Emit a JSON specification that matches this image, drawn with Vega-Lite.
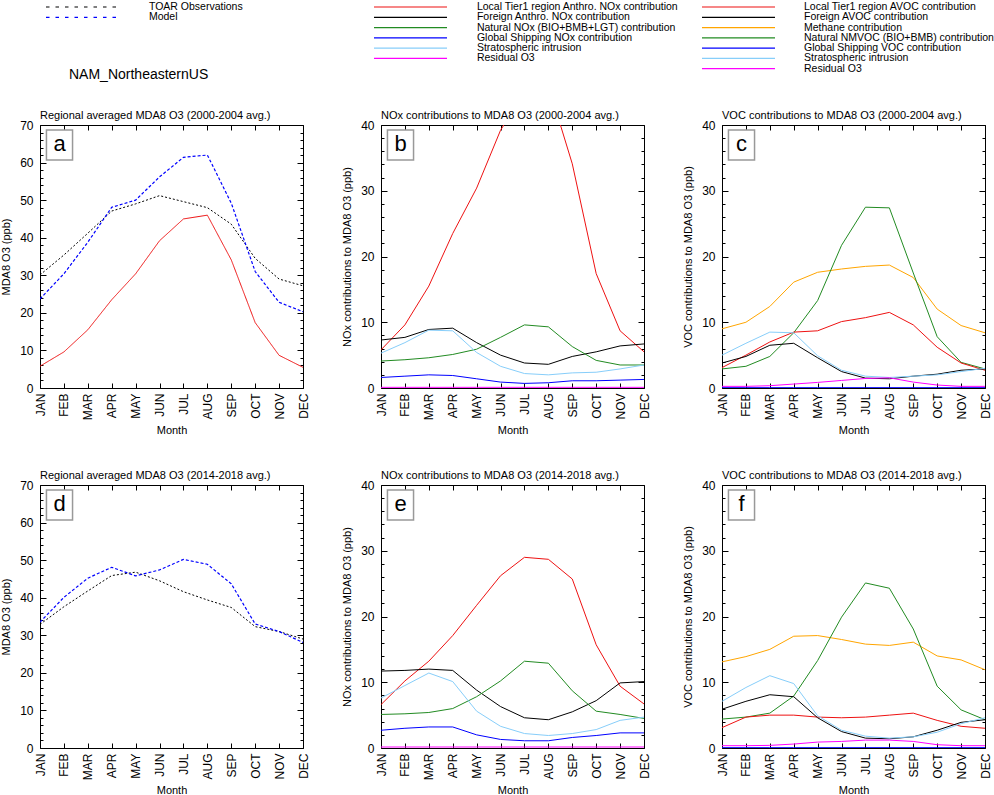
{
"$schema":"https://vega.github.io/schema/vega-lite/v6.json",
"background":"white",
"padding":{"top":2,"left":0,"right":0,"bottom":0},
"config":{
 "font":"Liberation Sans",
 "view":{"stroke":"#000","strokeWidth":1},
 "axis":{"domain":false,"grid":false,"tickColor":"#000","tickWidth":1,"labelColor":"#000","titleColor":"#000","labelFont":"Liberation Sans","titleFont":"Liberation Sans","labelFontSize":12,"titleFontSize":11,"titleFontWeight":"normal"},
 "title":{"anchor":"start","frame":"group","fontSize":11,"fontWeight":"normal","font":"Liberation Sans","color":"#000","offset":-2},
 "text":{"font":"Liberation Sans","color":"#000"}
},
"datasets":{
 "leg":[
  {"block":"obs","series":"TOAR Observations","order":0},
  {"block":"obs","series":"Model","order":1},
  {"block":"nox","series":"Local Tier1 region Anthro. NOx contribution","order":0},
  {"block":"nox","series":"Foreign Anthro. NOx contribution","order":1},
  {"block":"nox","series":"Natural NOx (BIO+BMB+LGT) contribution","order":2},
  {"block":"nox","series":"Global Shipping NOx contribution","order":3},
  {"block":"nox","series":"Stratospheric intrusion","order":4},
  {"block":"nox","series":"Residual O3","order":5},
  {"block":"voc","series":"Local Tier1 region AVOC contribution","order":0},
  {"block":"voc","series":"Foreign AVOC contribution","order":1},
  {"block":"voc","series":"Methane contribution","order":2},
  {"block":"voc","series":"Natural NMVOC (BIO+BMB) contribution","order":3},
  {"block":"voc","series":"Global Shipping VOC contribution","order":4},
  {"block":"voc","series":"Stratospheric intrusion","order":5},
  {"block":"voc","series":"Residual O3","order":6}
 ],
 "d":[
  {"panel":"a","series":"TOAR Observations","JAN":30.1,"FEB":35.4,"MAR":41.2,"APR":47.1,"MAY":49,"JUN":51.2,"JUL":49.6,"AUG":48,"SEP":43.6,"OCT":34.5,"NOV":29,"DEC":27.2},
  {"panel":"a","series":"Model","JAN":23.7,"FEB":30.4,"MAR":38.8,"APR":48.1,"MAY":50,"JUN":56.2,"JUL":61.4,"AUG":62,"SEP":49.2,"OCT":31,"NOV":22.8,"DEC":20.3},
  {"panel":"a","series":"Local Tier1 region Anthro. NOx contribution","JAN":5.8,"FEB":9.6,"MAR":15.5,"APR":23.5,"MAY":30.4,"JUN":39.2,"JUL":45,"AUG":46,"SEP":34.1,"OCT":17.4,"NOV":8.7,"DEC":5.5},

  {"panel":"b","series":"Local Tier1 region Anthro. NOx contribution","JAN":5.8,"FEB":9.6,"MAR":15.5,"APR":23.5,"MAY":30.4,"JUN":39.2,"JUL":45,"AUG":46,"SEP":34.1,"OCT":17.4,"NOV":8.7,"DEC":5.5},
  {"panel":"b","series":"Foreign Anthro. NOx contribution","JAN":7.3,"FEB":7.7,"MAR":8.9,"APR":9.1,"MAY":6.9,"JUN":5.0,"JUL":3.8,"AUG":3.6,"SEP":4.8,"OCT":5.5,"NOV":6.4,"DEC":6.7},
  {"panel":"b","series":"Natural NOx (BIO+BMB+LGT) contribution","JAN":4.1,"FEB":4.3,"MAR":4.6,"APR":5.1,"MAY":5.9,"JUN":7.7,"JUL":9.6,"AUG":9.3,"SEP":6.3,"OCT":4.2,"NOV":3.5,"DEC":3.5},
  {"panel":"b","series":"Global Shipping NOx contribution","JAN":1.6,"FEB":1.8,"MAR":2.0,"APR":1.9,"MAY":1.4,"JUN":0.9,"JUL":0.7,"AUG":0.8,"SEP":1.1,"OCT":1.1,"NOV":1.2,"DEC":1.3},
  {"panel":"b","series":"Stratospheric intrusion","JAN":5.3,"FEB":6.9,"MAR":8.8,"APR":8.7,"MAY":5.4,"JUN":3.3,"JUL":2.2,"AUG":2.0,"SEP":2.3,"OCT":2.4,"NOV":2.9,"DEC":3.5},
  {"panel":"b","series":"Residual O3","JAN":0.1,"FEB":0.1,"MAR":0.1,"APR":0.1,"MAY":0.1,"JUN":0.1,"JUL":0.1,"AUG":0.1,"SEP":0.1,"OCT":0.1,"NOV":0.1,"DEC":0.1},

  {"panel":"c","series":"Methane contribution","JAN":9.0,"FEB":10.0,"MAR":12.4,"APR":16.1,"MAY":17.6,"JUN":18.1,"JUL":18.5,"AUG":18.7,"SEP":16.8,"OCT":12.0,"NOV":9.5,"DEC":8.4},
  {"panel":"c","series":"Natural NMVOC (BIO+BMB) contribution","JAN":2.9,"FEB":3.3,"MAR":4.8,"APR":8.4,"MAY":13.3,"JUN":21.7,"JUL":27.5,"AUG":27.4,"SEP":17.5,"OCT":7.8,"NOV":3.9,"DEC":2.9},
  {"panel":"c","series":"Local Tier1 region AVOC contribution","JAN":3.1,"FEB":5.0,"MAR":7.0,"APR":8.5,"MAY":8.7,"JUN":10.1,"JUL":10.7,"AUG":11.5,"SEP":9.6,"OCT":6.2,"NOV":3.8,"DEC":2.7},
  {"panel":"c","series":"Foreign AVOC contribution","JAN":3.8,"FEB":4.8,"MAR":6.5,"APR":6.8,"MAY":4.6,"JUN":2.5,"JUL":1.5,"AUG":1.4,"SEP":1.8,"OCT":2.1,"NOV":2.7,"DEC":2.9},
  {"panel":"c","series":"Stratospheric intrusion","JAN":5.0,"FEB":6.8,"MAR":8.5,"APR":8.4,"MAY":4.9,"JUN":2.7,"JUL":1.8,"AUG":1.6,"SEP":1.8,"OCT":2.0,"NOV":2.5,"DEC":3.0},
  {"panel":"c","series":"Residual O3","JAN":0.25,"FEB":0.25,"MAR":0.35,"APR":0.6,"MAY":0.85,"JUN":1.15,"JUL":1.45,"AUG":1.55,"SEP":0.9,"OCT":0.45,"NOV":0.25,"DEC":0.25},
  {"panel":"c","series":"Global Shipping VOC contribution","JAN":0.05,"FEB":0.05,"MAR":0.05,"APR":0.05,"MAY":0.05,"JUN":0.05,"JUL":0.05,"AUG":0.05,"SEP":0.05,"OCT":0.05,"NOV":0.05,"DEC":0.05},

  {"panel":"d","series":"TOAR Observations","JAN":32.9,"FEB":37.6,"MAR":41.8,"APR":45.9,"MAY":46.8,"JUN":44.5,"JUL":41.6,"AUG":39.4,"SEP":37.4,"OCT":32.3,"NOV":31,"DEC":29},
  {"panel":"d","series":"Model","JAN":33.5,"FEB":40.1,"MAR":45.2,"APR":48.1,"MAY":45.8,"JUN":47.4,"JUL":50.2,"AUG":48.9,"SEP":43.7,"OCT":33,"NOV":31,"DEC":28.1},

  {"panel":"e","series":"Local Tier1 region Anthro. NOx contribution","JAN":6.6,"FEB":10.2,"MAR":13.2,"APR":17.1,"MAY":21.7,"JUN":26.2,"JUL":29.0,"AUG":28.7,"SEP":25.7,"OCT":15.7,"NOV":9.4,"DEC":6.7},
  {"panel":"e","series":"Foreign Anthro. NOx contribution","JAN":11.7,"FEB":11.8,"MAR":12.0,"APR":11.8,"MAY":8.8,"JUN":6.3,"JUL":4.6,"AUG":4.3,"SEP":5.5,"OCT":7.2,"NOV":9.9,"DEC":10.1},
  {"panel":"e","series":"Natural NOx (BIO+BMB+LGT) contribution","JAN":5.1,"FEB":5.2,"MAR":5.4,"APR":6.0,"MAY":7.8,"JUN":10.2,"JUL":13.2,"AUG":12.9,"SEP":8.7,"OCT":5.6,"NOV":5.1,"DEC":4.5},
  {"panel":"e","series":"Global Shipping NOx contribution","JAN":2.7,"FEB":3.0,"MAR":3.2,"APR":3.2,"MAY":2.0,"JUN":1.3,"JUL":1.1,"AUG":1.1,"SEP":1.6,"OCT":1.9,"NOV":2.3,"DEC":2.3},
  {"panel":"e","series":"Stratospheric intrusion","JAN":7.6,"FEB":9.5,"MAR":11.4,"APR":10.1,"MAY":5.6,"JUN":3.3,"JUL":2.2,"AUG":1.9,"SEP":2.2,"OCT":2.8,"NOV":4.2,"DEC":4.7},
  {"panel":"e","series":"Residual O3","JAN":0.15,"FEB":0.15,"MAR":0.15,"APR":0.15,"MAY":0.15,"JUN":0.15,"JUL":0.15,"AUG":0.15,"SEP":0.15,"OCT":0.15,"NOV":0.15,"DEC":0.15},

  {"panel":"f","series":"Methane contribution","JAN":13.1,"FEB":13.9,"MAR":15.0,"APR":17.0,"MAY":17.1,"JUN":16.5,"JUL":15.8,"AUG":15.6,"SEP":16.1,"OCT":14.0,"NOV":13.4,"DEC":11.9},
  {"panel":"f","series":"Natural NMVOC (BIO+BMB) contribution","JAN":4.4,"FEB":4.7,"MAR":5.3,"APR":7.9,"MAY":13.3,"JUN":19.9,"JUL":25.1,"AUG":24.3,"SEP":18.1,"OCT":9.4,"NOV":5.8,"DEC":4.3},
  {"panel":"f","series":"Local Tier1 region AVOC contribution","JAN":3.1,"FEB":4.7,"MAR":5.0,"APR":5.0,"MAY":4.7,"JUN":4.6,"JUL":4.7,"AUG":5.0,"SEP":5.3,"OCT":4.2,"NOV":3.3,"DEC":3.0},
  {"panel":"f","series":"Foreign AVOC contribution","JAN":5.9,"FEB":7.1,"MAR":8.1,"APR":7.8,"MAY":4.6,"JUN":2.5,"JUL":1.5,"AUG":1.4,"SEP":1.7,"OCT":2.7,"NOV":3.9,"DEC":4.3},
  {"panel":"f","series":"Stratospheric intrusion","JAN":7.1,"FEB":9.2,"MAR":11.0,"APR":9.8,"MAY":4.9,"JUN":2.7,"JUL":1.8,"AUG":1.5,"SEP":1.7,"OCT":2.4,"NOV":3.7,"DEC":4.6},
  {"panel":"f","series":"Residual O3","JAN":0.35,"FEB":0.35,"MAR":0.4,"APR":0.6,"MAY":0.9,"JUN":1.0,"JUL":1.2,"AUG":1.2,"SEP":1.0,"OCT":0.5,"NOV":0.35,"DEC":0.35},
  {"panel":"f","series":"Global Shipping VOC contribution","JAN":0.05,"FEB":0.05,"MAR":0.05,"APR":0.05,"MAY":0.05,"JUN":0.05,"JUL":0.05,"AUG":0.05,"SEP":0.05,"OCT":0.05,"NOV":0.05,"DEC":0.05}
 ]
},
"columns":3,
"spacing":{"row":97,"column":78},
"bounds":"flush",
"concat":[
 {"width":263,"height":21,"view":{"stroke":null},
  "layer":[
   {"data":{"name":"leg"},"transform":[{"filter":"datum.block === 'obs'"}],
    "mark":{"type":"rule","strokeWidth":1.2,"strokeDash":[3.5,6]},
    "encoding":{
     "x":{"datum":0,"type":"quantitative","scale":{"domain":[-0.0822,3.5205],"nice":false,"zero":false},"axis":null},
     "x2":{"datum":1},
     "y":{"field":"order","type":"quantitative","scale":{"domain":[0,2.043],"reverse":true,"nice":false,"zero":false},"axis":null},
     "color":{"field":"series","type":"nominal","legend":null,"scale":{"domain":["TOAR Observations","Model","Local Tier1 region Anthro. NOx contribution","Foreign Anthro. NOx contribution","Natural NOx (BIO+BMB+LGT) contribution","Global Shipping NOx contribution","Stratospheric intrusion","Residual O3","Local Tier1 region AVOC contribution","Foreign AVOC contribution","Methane contribution","Natural NMVOC (BIO+BMB) contribution","Global Shipping VOC contribution"],"range":["#000000","#0000ff","#ee1111","#000000","#228b22","#0000ff","#87cefa","#ff00ff","#ee1111","#000000","#ffa500","#228b22","#0000ff"]}}
    }},
   {"data":{"name":"leg"},"transform":[{"filter":"datum.block === 'obs'"}],
    "mark":{"type":"text","align":"left","baseline":"middle","fontSize":10.5},
    "encoding":{
     "x":{"datum":1.41,"type":"quantitative","scale":{"domain":[-0.0822,3.5205],"nice":false,"zero":false},"axis":null},
     "y":{"field":"order","type":"quantitative","scale":{"domain":[0,2.043],"reverse":true,"nice":false,"zero":false},"axis":null},
     "text":{"field":"series"}
    }},
   {"data":{"values":[{"label":"NAM_NortheasternUS"}]},
    "mark":{"type":"text","align":"left","baseline":"middle","fontSize":14},
    "encoding":{
     "x":{"datum":0.315,"type":"quantitative","scale":{"domain":[-0.0822,3.5205],"nice":false,"zero":false},"axis":null},
     "y":{"datum":6.6,"type":"quantitative","scale":{"domain":[0,2.043],"reverse":true,"nice":false,"zero":false},"axis":null},
     "text":{"field":"label"}
    }}
  ]},
 {"width":263,"height":21,"view":{"stroke":null},
  "data":{"name":"leg"},"transform":[{"filter":"datum.block === 'nox'"}],
  "layer":[
   {"mark":{"type":"rule","strokeWidth":1.2},
    "encoding":{
     "x":{"datum":0,"type":"quantitative","scale":{"domain":[0.0959,3.6986],"nice":false,"zero":false},"axis":null},
     "x2":{"datum":1},
     "y":{"field":"order","type":"quantitative","scale":{"domain":[0,2.043],"reverse":true,"nice":false,"zero":false},"axis":null},
     "color":{"field":"series","type":"nominal","legend":null,"scale":{"domain":["TOAR Observations","Model","Local Tier1 region Anthro. NOx contribution","Foreign Anthro. NOx contribution","Natural NOx (BIO+BMB+LGT) contribution","Global Shipping NOx contribution","Stratospheric intrusion","Residual O3","Local Tier1 region AVOC contribution","Foreign AVOC contribution","Methane contribution","Natural NMVOC (BIO+BMB) contribution","Global Shipping VOC contribution"],"range":["#000000","#0000ff","#ee1111","#000000","#228b22","#0000ff","#87cefa","#ff00ff","#ee1111","#000000","#ffa500","#228b22","#0000ff"]}}
    }},
   {"mark":{"type":"text","align":"left","baseline":"middle","fontSize":10.5},
    "encoding":{
     "x":{"datum":1.41,"type":"quantitative","scale":{"domain":[0.0959,3.6986],"nice":false,"zero":false},"axis":null},
     "y":{"field":"order","type":"quantitative","scale":{"domain":[0,2.043],"reverse":true,"nice":false,"zero":false},"axis":null},
     "text":{"field":"series"}
    }}
  ]},
 {"width":263,"height":21,"view":{"stroke":null},
  "data":{"name":"leg"},"transform":[{"filter":"datum.block === 'voc'"}],
  "layer":[
   {"mark":{"type":"rule","strokeWidth":1.2},
    "encoding":{
     "x":{"datum":0,"type":"quantitative","scale":{"domain":[0.274,3.877],"nice":false,"zero":false},"axis":null},
     "x2":{"datum":1},
     "y":{"field":"order","type":"quantitative","scale":{"domain":[0,2.043],"reverse":true,"nice":false,"zero":false},"axis":null},
     "color":{"field":"series","type":"nominal","legend":null,"scale":{"domain":["TOAR Observations","Model","Local Tier1 region Anthro. NOx contribution","Foreign Anthro. NOx contribution","Natural NOx (BIO+BMB+LGT) contribution","Global Shipping NOx contribution","Stratospheric intrusion","Residual O3","Local Tier1 region AVOC contribution","Foreign AVOC contribution","Methane contribution","Natural NMVOC (BIO+BMB) contribution","Global Shipping VOC contribution"],"range":["#000000","#0000ff","#ee1111","#000000","#228b22","#0000ff","#87cefa","#ff00ff","#ee1111","#000000","#ffa500","#228b22","#0000ff"]}}
    }},
   {"mark":{"type":"text","align":"left","baseline":"middle","fontSize":10.5},
    "encoding":{
     "x":{"datum":1.397,"type":"quantitative","scale":{"domain":[0.274,3.877],"nice":false,"zero":false},"axis":null},
     "y":{"field":"order","type":"quantitative","scale":{"domain":[0,2.043],"reverse":true,"nice":false,"zero":false},"axis":null},
     "text":{"field":"series"}
    }}
  ]},

 {"width":263,"height":263,"title":"Regional averaged MDA8 O3 (2000-2004 avg.)",
  "layer":[
   {"data":{"name":"d"},"transform":[{"filter":"datum.panel === 'a'"},{"fold":["JAN","FEB","MAR","APR","MAY","JUN","JUL","AUG","SEP","OCT","NOV","DEC"],"as":["month","value"]}],
    "mark":{"type":"line","clip":true},
    "encoding":{
     "x":{"field":"month","type":"ordinal","scale":{"type":"point","padding":0,"domain":["JAN","FEB","MAR","APR","MAY","JUN","JUL","AUG","SEP","OCT","NOV","DEC"]},"axis":{"orient":"bottom","title":"Month","labelAngle":-90,"tickSize":-5,"labelPadding":10,"titlePadding":5}},
     "y":{"field":"value","type":"quantitative","scale":{"domain":[0,70],"nice":false},"axis":{"orient":"left","title":"MDA8 O3 (ppb)","values":[0,2,4,6,8,10,12,14,16,18,20,22,24,26,28,30,32,34,36,38,40,42,44,46,48,50,52,54,56,58,60,62,64,66,68,70],"tickSize":{"condition":{"test":"datum.value % 10 === 0","value":-6},"value":-3},"labelExpr":"datum.value % 10 === 0 ? datum.label : ''","labelOverlap":false,"labelPadding":13,"titlePadding":8}},
     "color":{"field":"series","type":"nominal","legend":null,"scale":{"domain":["TOAR Observations","Model","Local Tier1 region Anthro. NOx contribution","Foreign Anthro. NOx contribution","Natural NOx (BIO+BMB+LGT) contribution","Global Shipping NOx contribution","Stratospheric intrusion","Residual O3","Local Tier1 region AVOC contribution","Foreign AVOC contribution","Methane contribution","Natural NMVOC (BIO+BMB) contribution","Global Shipping VOC contribution"],"range":["#555555","#0000ff","#ee1111","#000000","#228b22","#0000ff","#87cefa","#ff00ff","#ee1111","#000000","#ffa500","#228b22","#0000ff"]}},
     "strokeDash":{"condition":[{"test":"datum.series === 'TOAR Observations'","value":[2,2]},{"test":"datum.series === 'Model'","value":[3,2]}],"value":[1,0]},
     "strokeWidth":{"condition":{"test":"datum.series === 'Model'","value":1.2},"value":1}
    }},
   {"data":{"name":"d"},"transform":[{"filter":"datum.panel === 'a'"},{"fold":["JAN","FEB","MAR","APR","MAY","JUN","JUL","AUG","SEP","OCT","NOV","DEC"],"as":["month","value"]}],
    "mark":{"type":"line","opacity":0,"clip":true},
    "encoding":{
     "x":{"field":"month","type":"ordinal","scale":{"type":"point","padding":0,"domain":["JAN","FEB","MAR","APR","MAY","JUN","JUL","AUG","SEP","OCT","NOV","DEC"]},"axis":{"orient":"top","title":null,"labels":false,"tickSize":-5}},
     "y":{"field":"value","type":"quantitative","scale":{"domain":[0,70],"nice":false},"axis":{"orient":"right","title":null,"labels":false,"values":[0,2,4,6,8,10,12,14,16,18,20,22,24,26,28,30,32,34,36,38,40,42,44,46,48,50,52,54,56,58,60,62,64,66,68,70],"tickSize":{"condition":{"test":"datum.value % 10 === 0","value":-6},"value":-3}}},
     "detail":{"field":"series"}
    }},
   {"data":{"values":[{"label":"a"}]},
    "mark":{"type":"point","shape":"M-0.87,-1H0.87V1H-0.87Z","size":900,"filled":true,"fill":"#ffffff","stroke":"#999999","strokeWidth":1.5,"opacity":1,"xOffset":19.5,"yOffset":20},
    "encoding":{"x":{"datum":"JAN","type":"ordinal","axis":null},"y":{"datum":70,"type":"quantitative","axis":null}}},
   {"data":{"values":[{"label":"a"}]},
    "mark":{"type":"text","fontSize":22,"align":"center","baseline":"middle","dx":19.5,"dy":19},
    "encoding":{"x":{"datum":"JAN","type":"ordinal","axis":null},"y":{"datum":70,"type":"quantitative","axis":null},"text":{"field":"label"}}}
  ],
  "resolve":{"axis":{"x":"independent","y":"independent"}}},

 {"width":263,"height":263,"title":"NOx contributions to MDA8 O3 (2000-2004 avg.)",
  "layer":[
   {"data":{"name":"d"},"transform":[{"filter":"datum.panel === 'b'"},{"fold":["JAN","FEB","MAR","APR","MAY","JUN","JUL","AUG","SEP","OCT","NOV","DEC"],"as":["month","value"]}],
    "mark":{"type":"line","clip":true,"strokeWidth":1},
    "encoding":{
     "x":{"field":"month","type":"ordinal","scale":{"type":"point","padding":0,"domain":["JAN","FEB","MAR","APR","MAY","JUN","JUL","AUG","SEP","OCT","NOV","DEC"]},"axis":{"orient":"bottom","title":"Month","labelAngle":-90,"tickSize":-5,"labelPadding":10,"titlePadding":5}},
     "y":{"field":"value","type":"quantitative","scale":{"domain":[0,40],"nice":false},"axis":{"orient":"left","title":"NOx contributions to MDA8 O3 (ppb)","values":[0,2,4,6,8,10,12,14,16,18,20,22,24,26,28,30,32,34,36,38,40],"tickSize":{"condition":{"test":"datum.value % 10 === 0","value":-6},"value":-3},"labelExpr":"datum.value % 10 === 0 ? datum.label : ''","labelOverlap":false,"labelPadding":13,"titlePadding":8}},
     "color":{"field":"series","type":"nominal","legend":null,"scale":{"domain":["TOAR Observations","Model","Local Tier1 region Anthro. NOx contribution","Foreign Anthro. NOx contribution","Natural NOx (BIO+BMB+LGT) contribution","Global Shipping NOx contribution","Stratospheric intrusion","Residual O3","Local Tier1 region AVOC contribution","Foreign AVOC contribution","Methane contribution","Natural NMVOC (BIO+BMB) contribution","Global Shipping VOC contribution"],"range":["#555555","#0000ff","#ee1111","#000000","#228b22","#0000ff","#87cefa","#ff00ff","#ee1111","#000000","#ffa500","#228b22","#0000ff"]}}
    }},
   {"data":{"name":"d"},"transform":[{"filter":"datum.panel === 'b'"},{"fold":["JAN","FEB","MAR","APR","MAY","JUN","JUL","AUG","SEP","OCT","NOV","DEC"],"as":["month","value"]}],
    "mark":{"type":"line","opacity":0,"clip":true},
    "encoding":{
     "x":{"field":"month","type":"ordinal","scale":{"type":"point","padding":0,"domain":["JAN","FEB","MAR","APR","MAY","JUN","JUL","AUG","SEP","OCT","NOV","DEC"]},"axis":{"orient":"top","title":null,"labels":false,"tickSize":-5}},
     "y":{"field":"value","type":"quantitative","scale":{"domain":[0,40],"nice":false},"axis":{"orient":"right","title":null,"labels":false,"values":[0,2,4,6,8,10,12,14,16,18,20,22,24,26,28,30,32,34,36,38,40],"tickSize":{"condition":{"test":"datum.value % 10 === 0","value":-6},"value":-3}}},
     "detail":{"field":"series"}
    }},
   {"data":{"values":[{"label":"b"}]},
    "mark":{"type":"point","shape":"M-0.87,-1H0.87V1H-0.87Z","size":900,"filled":true,"fill":"#ffffff","stroke":"#999999","strokeWidth":1.5,"opacity":1,"xOffset":19.5,"yOffset":20},
    "encoding":{"x":{"datum":"JAN","type":"ordinal","axis":null},"y":{"datum":40,"type":"quantitative","axis":null}}},
   {"data":{"values":[{"label":"b"}]},
    "mark":{"type":"text","fontSize":22,"align":"center","baseline":"middle","dx":19.5,"dy":19},
    "encoding":{"x":{"datum":"JAN","type":"ordinal","axis":null},"y":{"datum":40,"type":"quantitative","axis":null},"text":{"field":"label"}}}
  ],
  "resolve":{"axis":{"x":"independent","y":"independent"}}},

 {"width":263,"height":263,"title":"VOC contributions to MDA8 O3 (2000-2004 avg.)",
  "layer":[
   {"data":{"name":"d"},"transform":[{"filter":"datum.panel === 'c'"},{"fold":["JAN","FEB","MAR","APR","MAY","JUN","JUL","AUG","SEP","OCT","NOV","DEC"],"as":["month","value"]}],
    "mark":{"type":"line","clip":true,"strokeWidth":1},
    "encoding":{
     "x":{"field":"month","type":"ordinal","scale":{"type":"point","padding":0,"domain":["JAN","FEB","MAR","APR","MAY","JUN","JUL","AUG","SEP","OCT","NOV","DEC"]},"axis":{"orient":"bottom","title":"Month","labelAngle":-90,"tickSize":-5,"labelPadding":10,"titlePadding":5}},
     "y":{"field":"value","type":"quantitative","scale":{"domain":[0,40],"nice":false},"axis":{"orient":"left","title":"VOC contributions to MDA8 O3 (ppb)","values":[0,2,4,6,8,10,12,14,16,18,20,22,24,26,28,30,32,34,36,38,40],"tickSize":{"condition":{"test":"datum.value % 10 === 0","value":-6},"value":-3},"labelExpr":"datum.value % 10 === 0 ? datum.label : ''","labelOverlap":false,"labelPadding":13,"titlePadding":8}},
     "color":{"field":"series","type":"nominal","legend":null,"scale":{"domain":["TOAR Observations","Model","Local Tier1 region Anthro. NOx contribution","Foreign Anthro. NOx contribution","Natural NOx (BIO+BMB+LGT) contribution","Global Shipping NOx contribution","Stratospheric intrusion","Residual O3","Local Tier1 region AVOC contribution","Foreign AVOC contribution","Methane contribution","Natural NMVOC (BIO+BMB) contribution","Global Shipping VOC contribution"],"range":["#555555","#0000ff","#ee1111","#000000","#228b22","#0000ff","#87cefa","#ff00ff","#ee1111","#000000","#ffa500","#228b22","#0000ff"]}}
    }},
   {"data":{"name":"d"},"transform":[{"filter":"datum.panel === 'c'"},{"fold":["JAN","FEB","MAR","APR","MAY","JUN","JUL","AUG","SEP","OCT","NOV","DEC"],"as":["month","value"]}],
    "mark":{"type":"line","opacity":0,"clip":true},
    "encoding":{
     "x":{"field":"month","type":"ordinal","scale":{"type":"point","padding":0,"domain":["JAN","FEB","MAR","APR","MAY","JUN","JUL","AUG","SEP","OCT","NOV","DEC"]},"axis":{"orient":"top","title":null,"labels":false,"tickSize":-5}},
     "y":{"field":"value","type":"quantitative","scale":{"domain":[0,40],"nice":false},"axis":{"orient":"right","title":null,"labels":false,"values":[0,2,4,6,8,10,12,14,16,18,20,22,24,26,28,30,32,34,36,38,40],"tickSize":{"condition":{"test":"datum.value % 10 === 0","value":-6},"value":-3}}},
     "detail":{"field":"series"}
    }},
   {"data":{"values":[{"label":"c"}]},
    "mark":{"type":"point","shape":"M-0.87,-1H0.87V1H-0.87Z","size":900,"filled":true,"fill":"#ffffff","stroke":"#999999","strokeWidth":1.5,"opacity":1,"xOffset":19.5,"yOffset":20},
    "encoding":{"x":{"datum":"JAN","type":"ordinal","axis":null},"y":{"datum":40,"type":"quantitative","axis":null}}},
   {"data":{"values":[{"label":"c"}]},
    "mark":{"type":"text","fontSize":22,"align":"center","baseline":"middle","dx":19.5,"dy":19},
    "encoding":{"x":{"datum":"JAN","type":"ordinal","axis":null},"y":{"datum":40,"type":"quantitative","axis":null},"text":{"field":"label"}}}
  ],
  "resolve":{"axis":{"x":"independent","y":"independent"}}},

 {"width":263,"height":263,"title":"Regional averaged MDA8 O3 (2014-2018 avg.)",
  "layer":[
   {"data":{"name":"d"},"transform":[{"filter":"datum.panel === 'd'"},{"fold":["JAN","FEB","MAR","APR","MAY","JUN","JUL","AUG","SEP","OCT","NOV","DEC"],"as":["month","value"]}],
    "mark":{"type":"line","clip":true},
    "encoding":{
     "x":{"field":"month","type":"ordinal","scale":{"type":"point","padding":0,"domain":["JAN","FEB","MAR","APR","MAY","JUN","JUL","AUG","SEP","OCT","NOV","DEC"]},"axis":{"orient":"bottom","title":"Month","labelAngle":-90,"tickSize":-5,"labelPadding":10,"titlePadding":5}},
     "y":{"field":"value","type":"quantitative","scale":{"domain":[0,70],"nice":false},"axis":{"orient":"left","title":"MDA8 O3 (ppb)","values":[0,2,4,6,8,10,12,14,16,18,20,22,24,26,28,30,32,34,36,38,40,42,44,46,48,50,52,54,56,58,60,62,64,66,68,70],"tickSize":{"condition":{"test":"datum.value % 10 === 0","value":-6},"value":-3},"labelExpr":"datum.value % 10 === 0 ? datum.label : ''","labelOverlap":false,"labelPadding":13,"titlePadding":8}},
     "color":{"field":"series","type":"nominal","legend":null,"scale":{"domain":["TOAR Observations","Model","Local Tier1 region Anthro. NOx contribution","Foreign Anthro. NOx contribution","Natural NOx (BIO+BMB+LGT) contribution","Global Shipping NOx contribution","Stratospheric intrusion","Residual O3","Local Tier1 region AVOC contribution","Foreign AVOC contribution","Methane contribution","Natural NMVOC (BIO+BMB) contribution","Global Shipping VOC contribution"],"range":["#555555","#0000ff","#ee1111","#000000","#228b22","#0000ff","#87cefa","#ff00ff","#ee1111","#000000","#ffa500","#228b22","#0000ff"]}},
     "strokeDash":{"condition":[{"test":"datum.series === 'TOAR Observations'","value":[2,2]},{"test":"datum.series === 'Model'","value":[3,2]}],"value":[1,0]},
     "strokeWidth":{"condition":{"test":"datum.series === 'Model'","value":1.2},"value":1}
    }},
   {"data":{"name":"d"},"transform":[{"filter":"datum.panel === 'd'"},{"fold":["JAN","FEB","MAR","APR","MAY","JUN","JUL","AUG","SEP","OCT","NOV","DEC"],"as":["month","value"]}],
    "mark":{"type":"line","opacity":0,"clip":true},
    "encoding":{
     "x":{"field":"month","type":"ordinal","scale":{"type":"point","padding":0,"domain":["JAN","FEB","MAR","APR","MAY","JUN","JUL","AUG","SEP","OCT","NOV","DEC"]},"axis":{"orient":"top","title":null,"labels":false,"tickSize":-5}},
     "y":{"field":"value","type":"quantitative","scale":{"domain":[0,70],"nice":false},"axis":{"orient":"right","title":null,"labels":false,"values":[0,2,4,6,8,10,12,14,16,18,20,22,24,26,28,30,32,34,36,38,40,42,44,46,48,50,52,54,56,58,60,62,64,66,68,70],"tickSize":{"condition":{"test":"datum.value % 10 === 0","value":-6},"value":-3}}},
     "detail":{"field":"series"}
    }},
   {"data":{"values":[{"label":"d"}]},
    "mark":{"type":"point","shape":"M-0.87,-1H0.87V1H-0.87Z","size":900,"filled":true,"fill":"#ffffff","stroke":"#999999","strokeWidth":1.5,"opacity":1,"xOffset":19.5,"yOffset":20},
    "encoding":{"x":{"datum":"JAN","type":"ordinal","axis":null},"y":{"datum":70,"type":"quantitative","axis":null}}},
   {"data":{"values":[{"label":"d"}]},
    "mark":{"type":"text","fontSize":22,"align":"center","baseline":"middle","dx":19.5,"dy":19},
    "encoding":{"x":{"datum":"JAN","type":"ordinal","axis":null},"y":{"datum":70,"type":"quantitative","axis":null},"text":{"field":"label"}}}
  ],
  "resolve":{"axis":{"x":"independent","y":"independent"}}},

 {"width":263,"height":263,"title":"NOx contributions to MDA8 O3 (2014-2018 avg.)",
  "layer":[
   {"data":{"name":"d"},"transform":[{"filter":"datum.panel === 'e'"},{"fold":["JAN","FEB","MAR","APR","MAY","JUN","JUL","AUG","SEP","OCT","NOV","DEC"],"as":["month","value"]}],
    "mark":{"type":"line","clip":true,"strokeWidth":1},
    "encoding":{
     "x":{"field":"month","type":"ordinal","scale":{"type":"point","padding":0,"domain":["JAN","FEB","MAR","APR","MAY","JUN","JUL","AUG","SEP","OCT","NOV","DEC"]},"axis":{"orient":"bottom","title":"Month","labelAngle":-90,"tickSize":-5,"labelPadding":10,"titlePadding":5}},
     "y":{"field":"value","type":"quantitative","scale":{"domain":[0,40],"nice":false},"axis":{"orient":"left","title":"NOx contributions to MDA8 O3 (ppb)","values":[0,2,4,6,8,10,12,14,16,18,20,22,24,26,28,30,32,34,36,38,40],"tickSize":{"condition":{"test":"datum.value % 10 === 0","value":-6},"value":-3},"labelExpr":"datum.value % 10 === 0 ? datum.label : ''","labelOverlap":false,"labelPadding":13,"titlePadding":8}},
     "color":{"field":"series","type":"nominal","legend":null,"scale":{"domain":["TOAR Observations","Model","Local Tier1 region Anthro. NOx contribution","Foreign Anthro. NOx contribution","Natural NOx (BIO+BMB+LGT) contribution","Global Shipping NOx contribution","Stratospheric intrusion","Residual O3","Local Tier1 region AVOC contribution","Foreign AVOC contribution","Methane contribution","Natural NMVOC (BIO+BMB) contribution","Global Shipping VOC contribution"],"range":["#555555","#0000ff","#ee1111","#000000","#228b22","#0000ff","#87cefa","#ff00ff","#ee1111","#000000","#ffa500","#228b22","#0000ff"]}}
    }},
   {"data":{"name":"d"},"transform":[{"filter":"datum.panel === 'e'"},{"fold":["JAN","FEB","MAR","APR","MAY","JUN","JUL","AUG","SEP","OCT","NOV","DEC"],"as":["month","value"]}],
    "mark":{"type":"line","opacity":0,"clip":true},
    "encoding":{
     "x":{"field":"month","type":"ordinal","scale":{"type":"point","padding":0,"domain":["JAN","FEB","MAR","APR","MAY","JUN","JUL","AUG","SEP","OCT","NOV","DEC"]},"axis":{"orient":"top","title":null,"labels":false,"tickSize":-5}},
     "y":{"field":"value","type":"quantitative","scale":{"domain":[0,40],"nice":false},"axis":{"orient":"right","title":null,"labels":false,"values":[0,2,4,6,8,10,12,14,16,18,20,22,24,26,28,30,32,34,36,38,40],"tickSize":{"condition":{"test":"datum.value % 10 === 0","value":-6},"value":-3}}},
     "detail":{"field":"series"}
    }},
   {"data":{"values":[{"label":"e"}]},
    "mark":{"type":"point","shape":"M-0.87,-1H0.87V1H-0.87Z","size":900,"filled":true,"fill":"#ffffff","stroke":"#999999","strokeWidth":1.5,"opacity":1,"xOffset":19.5,"yOffset":20},
    "encoding":{"x":{"datum":"JAN","type":"ordinal","axis":null},"y":{"datum":40,"type":"quantitative","axis":null}}},
   {"data":{"values":[{"label":"e"}]},
    "mark":{"type":"text","fontSize":22,"align":"center","baseline":"middle","dx":19.5,"dy":19},
    "encoding":{"x":{"datum":"JAN","type":"ordinal","axis":null},"y":{"datum":40,"type":"quantitative","axis":null},"text":{"field":"label"}}}
  ],
  "resolve":{"axis":{"x":"independent","y":"independent"}}},

 {"width":263,"height":263,"title":"VOC contributions to MDA8 O3 (2014-2018 avg.)",
  "layer":[
   {"data":{"name":"d"},"transform":[{"filter":"datum.panel === 'f'"},{"fold":["JAN","FEB","MAR","APR","MAY","JUN","JUL","AUG","SEP","OCT","NOV","DEC"],"as":["month","value"]}],
    "mark":{"type":"line","clip":true,"strokeWidth":1},
    "encoding":{
     "x":{"field":"month","type":"ordinal","scale":{"type":"point","padding":0,"domain":["JAN","FEB","MAR","APR","MAY","JUN","JUL","AUG","SEP","OCT","NOV","DEC"]},"axis":{"orient":"bottom","title":"Month","labelAngle":-90,"tickSize":-5,"labelPadding":10,"titlePadding":5}},
     "y":{"field":"value","type":"quantitative","scale":{"domain":[0,40],"nice":false},"axis":{"orient":"left","title":"VOC contributions to MDA8 O3 (ppb)","values":[0,2,4,6,8,10,12,14,16,18,20,22,24,26,28,30,32,34,36,38,40],"tickSize":{"condition":{"test":"datum.value % 10 === 0","value":-6},"value":-3},"labelExpr":"datum.value % 10 === 0 ? datum.label : ''","labelOverlap":false,"labelPadding":13,"titlePadding":8}},
     "color":{"field":"series","type":"nominal","legend":null,"scale":{"domain":["TOAR Observations","Model","Local Tier1 region Anthro. NOx contribution","Foreign Anthro. NOx contribution","Natural NOx (BIO+BMB+LGT) contribution","Global Shipping NOx contribution","Stratospheric intrusion","Residual O3","Local Tier1 region AVOC contribution","Foreign AVOC contribution","Methane contribution","Natural NMVOC (BIO+BMB) contribution","Global Shipping VOC contribution"],"range":["#555555","#0000ff","#ee1111","#000000","#228b22","#0000ff","#87cefa","#ff00ff","#ee1111","#000000","#ffa500","#228b22","#0000ff"]}}
    }},
   {"data":{"name":"d"},"transform":[{"filter":"datum.panel === 'f'"},{"fold":["JAN","FEB","MAR","APR","MAY","JUN","JUL","AUG","SEP","OCT","NOV","DEC"],"as":["month","value"]}],
    "mark":{"type":"line","opacity":0,"clip":true},
    "encoding":{
     "x":{"field":"month","type":"ordinal","scale":{"type":"point","padding":0,"domain":["JAN","FEB","MAR","APR","MAY","JUN","JUL","AUG","SEP","OCT","NOV","DEC"]},"axis":{"orient":"top","title":null,"labels":false,"tickSize":-5}},
     "y":{"field":"value","type":"quantitative","scale":{"domain":[0,40],"nice":false},"axis":{"orient":"right","title":null,"labels":false,"values":[0,2,4,6,8,10,12,14,16,18,20,22,24,26,28,30,32,34,36,38,40],"tickSize":{"condition":{"test":"datum.value % 10 === 0","value":-6},"value":-3}}},
     "detail":{"field":"series"}
    }},
   {"data":{"values":[{"label":"f"}]},
    "mark":{"type":"point","shape":"M-0.87,-1H0.87V1H-0.87Z","size":900,"filled":true,"fill":"#ffffff","stroke":"#999999","strokeWidth":1.5,"opacity":1,"xOffset":19.5,"yOffset":20},
    "encoding":{"x":{"datum":"JAN","type":"ordinal","axis":null},"y":{"datum":40,"type":"quantitative","axis":null}}},
   {"data":{"values":[{"label":"f"}]},
    "mark":{"type":"text","fontSize":22,"align":"center","baseline":"middle","dx":19.5,"dy":19},
    "encoding":{"x":{"datum":"JAN","type":"ordinal","axis":null},"y":{"datum":40,"type":"quantitative","axis":null},"text":{"field":"label"}}}
  ],
  "resolve":{"axis":{"x":"independent","y":"independent"}}}
]
}
